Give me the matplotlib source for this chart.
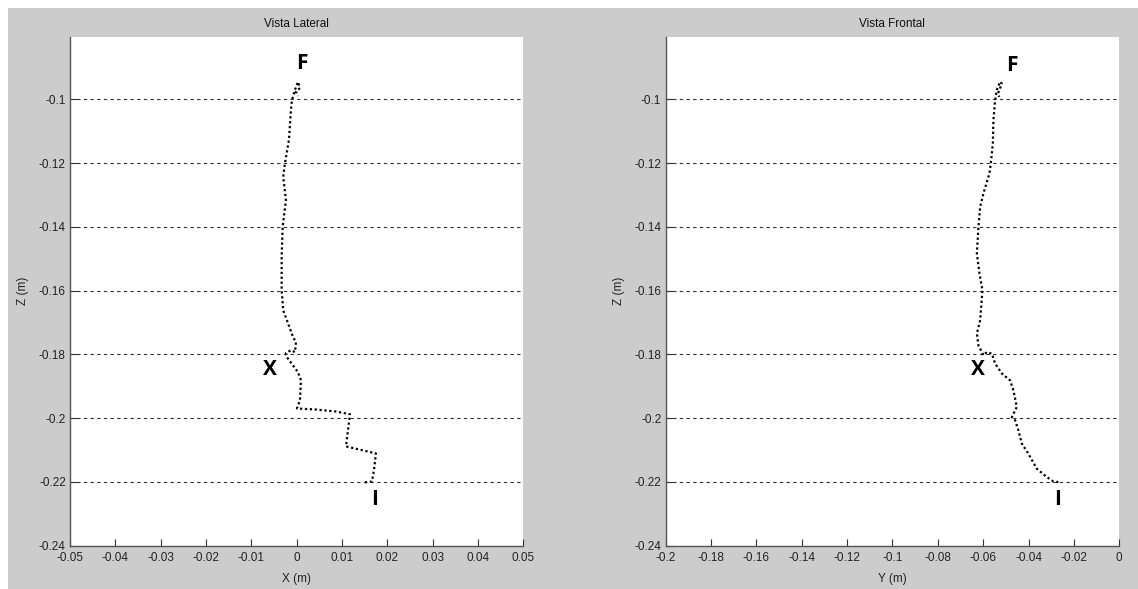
import matplotlib
matplotlib.use("Agg")
import matplotlib.pyplot as plt
from matplotlib.patches import Rectangle
from matplotlib.ticker import FixedLocator, FuncFormatter

plt.rcParams['font.family'] = ['Liberation Sans', 'DejaVu Sans']

# Lateral view (X vs Z), from I (start) to F (end)
lat_x = [0.01507, 0.01661, 0.01705, 0.01749, 0.01088, 0.01132, 0.01176, 0.00845,
         0.00404, 0.00007, 0.00073, 0.00095, 0.00029, -0.00214, -0.00236, -0.00126,
         -0.00038, -0.00015, -0.00082, -0.00192, -0.00296, -0.00331, -0.00331,
         -0.00309, -0.00236, -0.00296, -0.00258, -0.00170, -0.00126, -0.00104,
         -0.00038, 0.00029, 0.00073, -0.00015, 0.00029]
lat_z = [-0.2202, -0.2199, -0.2164, -0.2111, -0.2089, -0.2039, -0.1988, -0.1979,
         -0.1973, -0.1970, -0.1944, -0.1881, -0.1856, -0.1809, -0.1796, -0.1787,
         -0.1793, -0.1762, -0.1745, -0.1702, -0.1662, -0.1599, -0.1494, -0.1400,
         -0.1316, -0.1243, -0.1200, -0.1127, -0.1033, -0.1002, -0.0970, -0.0945,
         -0.0964, -0.0976, -0.0989]

# Frontal view (Y vs Z)
fro_y = [-0.02685, -0.02906, -0.03196, -0.03636, -0.04006, -0.04297, -0.04446,
         -0.04592, -0.04737, -0.04517, -0.04667, -0.04812, -0.05177, -0.05472,
         -0.05617, -0.05838, -0.05987, -0.06207, -0.06278, -0.06133, -0.06031,
         -0.06163, -0.06278, -0.06207, -0.06133, -0.05987, -0.05723, -0.05661,
         -0.05573, -0.05547, -0.05472, -0.05397, -0.05252, -0.05177, -0.05340,
         -0.05296]
fro_z = [-0.2201, -0.2199, -0.2185, -0.2159, -0.2112, -0.2080, -0.2039, -0.2007,
         -0.1997, -0.1965, -0.1913, -0.1882, -0.1860, -0.1829, -0.1798, -0.1793,
         -0.1803, -0.1772, -0.1735, -0.1693, -0.1599, -0.1546, -0.1483, -0.1400,
         -0.1337, -0.1295, -0.1232, -0.1200, -0.1138, -0.1064, -0.1002, -0.0970,
         -0.0944, -0.0951, -0.0980, -0.0992]

z_ticks = [-0.24, -0.22, -0.2, -0.18, -0.16, -0.14, -0.12, -0.1]
x_ticks = [-0.05, -0.04, -0.03, -0.02, -0.01, 0, 0.01, 0.02, 0.03, 0.04, 0.05]
y_ticks = [-0.2, -0.18, -0.16, -0.14, -0.12, -0.1, -0.08, -0.06, -0.04, -0.02, 0]

titles = ["Vista Lateral", "Vista Frontal"]
xlabels = ["X (m)", "Y (m)"]
ylabel = "Z (m)"

lat_marks = [("F", 0.0012, -0.0888), ("X", -0.0059, -0.1847), ("I", 0.0171, -0.2256)]
fro_marks = [("F", -0.0472, -0.0894), ("X", -0.0622, -0.1847), ("I", -0.0270, -0.2256)]

W, H = 1138, 589
fig = plt.figure(figsize=(W / 100, H / 100), dpi=100)
fig.patch.set_facecolor('white')
fig.patches.append(Rectangle((8 / W, 0), 1 - 8 / W, (H - 8) / H,
                             transform=fig.transFigure, facecolor='#cccccc',
                             edgecolor='none', zorder=-10))

def fx(px):
    return px / W

def fy(py):
    return 1 - py / H

ax1 = fig.add_axes([fx(70), fy(545.5), fx(523.3 - 70), (545.5 - 36.7) / H])
ax2 = fig.add_axes([fx(665.5), fy(545.5), fx(1119.3 - 665.5), (545.5 - 36.7) / H])

fmt = FuncFormatter(lambda v, p: ('%g' % round(v, 4)) if abs(v) > 1e-12 else '0')

for ax, xs, zs, xlim, xt, title, xl, marks in [
        (ax1, lat_x, lat_z, (-0.05, 0.05), x_ticks, titles[0], xlabels[0], lat_marks),
        (ax2, fro_y, fro_z, (-0.2, 0.0), y_ticks, titles[1], xlabels[1], fro_marks)]:
    ax.set_facecolor('white')
    ax.plot(xs, zs, color='black', linestyle=(0, (1, 1.2)), linewidth=1.6,
            solid_capstyle='butt')
    ax.set_xlim(*xlim)
    ax.set_ylim(-0.24, -0.0803)
    ax.xaxis.set_major_locator(FixedLocator(xt))
    ax.yaxis.set_major_locator(FixedLocator(z_ticks))
    ax.xaxis.set_major_formatter(fmt)
    ax.yaxis.set_major_formatter(fmt)
    ax.yaxis.grid(True, color='#303030', linestyle=(0, (3, 3)), linewidth=0.8)
    ax.set_axisbelow(True)
    for s in ['top', 'right']:
        ax.spines[s].set_visible(False)
    for s in ['left', 'bottom']:
        ax.spines[s].set_color('#555555')
        ax.spines[s].set_linewidth(1.0)
    ax.tick_params(direction='in', length=5, width=0.8, color='#333333',
                   labelsize=8.5, labelcolor='#222222')
    ax.tick_params(axis='x', pad=5)
    ax.tick_params(axis='y', pad=3)
    ax.set_title(title, fontsize=8.5, pad=7, color='#111111')
    ax.set_xlabel(xl, fontsize=8.5, labelpad=6, color='#222222')
    ax.set_ylabel(ylabel, fontsize=8.5, labelpad=7, color='#222222')
    for t, xx, zz in marks:
        ax.text(xx, zz, t, fontsize=15, fontweight='bold', ha='center', va='center',
                family=['Open Sans', 'DejaVu Sans'], color='black')

fig.savefig('out.png', dpi=100, facecolor=fig.get_facecolor())
